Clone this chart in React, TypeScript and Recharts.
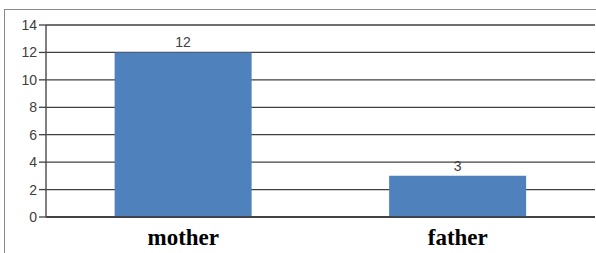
import React from "react";
import { BarChart, Bar, XAxis, YAxis, CartesianGrid, LabelList } from "recharts";

const categories = ["mother", "father"];
const values = [12, 3];
const yTicks = [0, 2, 4, 6, 8, 10, 12, 14];
const edgeTicks = [0, 1, 2];

const data = categories.map((c, i) => ({ name: c, value: values[i] }));

export default function App() {
  return (
    <div style={{ position: "fixed", left: 0, top: 0, width: 596, height: 253, overflow: "hidden", background: "#fff" }}>
      <div
        style={{
          position: "absolute",
          left: 4,
          top: 9,
          width: 700,
          height: 400,
          border: "1px solid #8a8a8a",
          boxSizing: "border-box",
        }}
      />
      <div style={{ position: "absolute", left: 0, top: 0 }}>
        <BarChart width={596} height={253} data={data} margin={{ top: 25, right: 1, left: 0, bottom: 0 }} barCategoryGap="25%">
          <CartesianGrid vertical={false} stroke="#404040" strokeWidth={1.3} />
          <XAxis
            xAxisId="edges"
            type="number"
            domain={[0, 2]}
            ticks={edgeTicks}
            tick={false}
            tickSize={7}
            tickLine={{ stroke: "#404040", strokeWidth: 1.3 }}
            axisLine={false}
            height={0}
          />
          <XAxis
            dataKey="name"
            height={36}
            tickLine={false}
            tickSize={0}
            tickMargin={12}
            axisLine={{ stroke: "#333", strokeWidth: 1.5 }}
            tick={{ fontFamily: "Liberation Serif", fontWeight: "bold", fontSize: 23, fill: "#000" }}
          />
          <YAxis
            width={46}
            domain={[0, 14]}
            ticks={yTicks}
            interval={0}
            tickSize={7}
            tickMargin={2}
            tickLine={{ stroke: "#404040", strokeWidth: 1.3 }}
            axisLine={{ stroke: "#555", strokeWidth: 1.5 }}
            tick={{ fontFamily: "Liberation Sans", fontSize: 14, fill: "#404040" }}
          />
          <Bar dataKey="value" fill="#4F81BD" isAnimationActive={false}>
            <LabelList dataKey="value" position="top" offset={5} fill="#404040" fontSize={14} fontFamily="Liberation Sans" />
          </Bar>
        </BarChart>
      </div>
    </div>
  );
}
